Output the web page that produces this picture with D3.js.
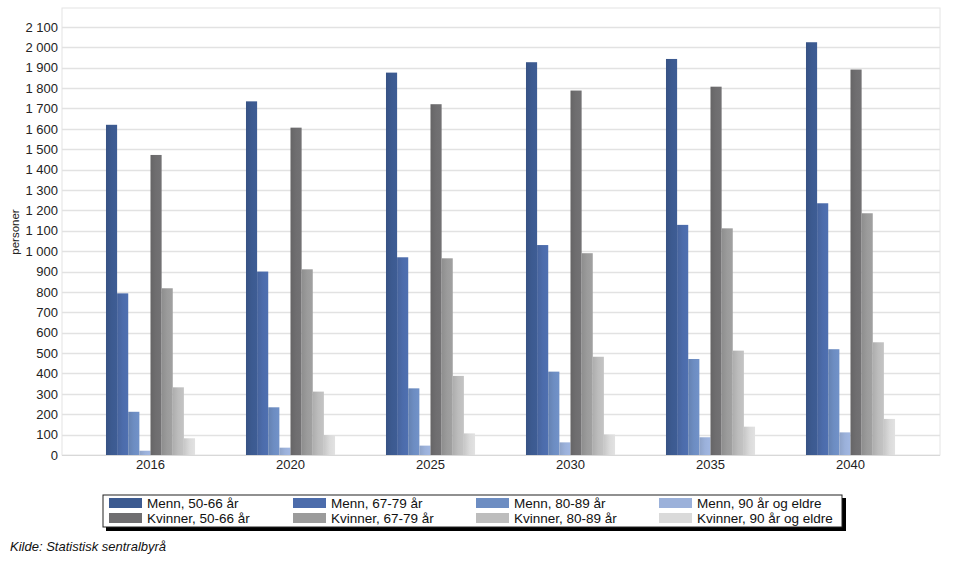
<!DOCTYPE html>
<html><head><meta charset="utf-8">
<script src="https://cdn.jsdelivr.net/npm/d3@7"></script>
<style>body{margin:0;background:#fff;font-family:"Liberation Sans",Arial,sans-serif}</style>
</head><body><svg id="c" width="962" height="574"></svg>
<script>
const years = ["2016","2020","2025","2030","2035","2040"];
const seriesNames = ["Menn, 50-66 år","Menn, 67-79 år","Menn, 80-89 år","Menn, 90 år og eldre",
  "Kvinner, 50-66 år","Kvinner, 67-79 år","Kvinner, 80-89 år","Kvinner, 90 år og eldre"];
const menn5066 = [1620,1735,1876,1927,1943,2025];
const menn6779 = [793,900,970,1030,1129,1235];
const menn8089 = [212,234,327,409,471,519];
const menn90 = [21,36,46,62,87,111];
const kvinner5066 = [1472,1606,1721,1788,1807,1891];
const kvinner6779 = [818,911,965,990,1112,1186];
const kvinner8089 = [332,311,388,482,512,553];
const kvinner90 = [82,98,106,101,139,177];
const yTicks = [0,100,200,300,400,500,600,700,800,900,1000,1100,1200,1300,1400,1500,1600,1700,1800,1900,2000,2100];
const colors = ["#3c5a90","#4c6cab","#6d8dc2","#9bb1da","#6f6e70","#9b9b9b","#bdbdbd","#dadada"];

const series = [menn5066,menn6779,menn8089,menn90,kvinner5066,kvinner6779,kvinner8089,kvinner90];
const svg = d3.select("#c");
const L=62,R=940,T=8,B=455;

const y = d3.scaleLinear().domain([0,2193]).range([B,T]);
const x0 = d3.scaleBand().domain(years).range([80.5,920.5]).paddingInner(0.364).paddingOuter(0.182);
const x1 = d3.scaleBand().domain(d3.range(8)).range([0,x0.bandwidth()]);

// frame
svg.append("rect").attr("x",L).attr("y",T).attr("width",R-L).attr("height",B-T)
  .attr("fill","#fff").attr("stroke","#e4e4e4");
// grid
svg.append("g").selectAll("line").data(yTicks.filter(d=>d>0)).join("line")
  .attr("x1",L).attr("x2",R).attr("y1",d=>Math.round(y(d))+0.5).attr("y2",d=>Math.round(y(d))+0.5)
  .attr("stroke","#e2e2e2").attr("stroke-width",1.5);

// y axis
const fmt = v => d3.format(",")(v).replace(/,/g," ");
const ya = svg.append("g").attr("transform",`translate(${L},0)`)
  .call(d3.axisLeft(y).tickValues(yTicks).tickFormat(fmt).tickSize(0).tickPadding(4));
ya.select(".domain").remove();
ya.selectAll("text").attr("font-family","Liberation Sans, Arial, sans-serif").attr("font-size",13).attr("fill","#222");

// x axis
svg.append("line").attr("x1",L).attr("x2",R).attr("y1",B+0.5).attr("y2",B+0.5).attr("stroke","#d8d8d8");
const xa = svg.append("g").attr("transform",`translate(0,${B})`)
  .call(d3.axisBottom(x0).tickSize(0).tickPadding(5));
xa.select(".domain").remove();
xa.selectAll("text").attr("font-family","Liberation Sans, Arial, sans-serif").attr("font-size",13).attr("fill","#222");

// gradients for slight shading
const defs = svg.append("defs");
colors.forEach((c,i)=>{
  const g = defs.append("linearGradient").attr("id","g"+i).attr("x1","0").attr("x2","1").attr("y1","0").attr("y2","0");
  g.append("stop").attr("offset","0").attr("stop-color",d3.color(c).darker(0.25));
  g.append("stop").attr("offset","0.5").attr("stop-color",c);
  g.append("stop").attr("offset","1").attr("stop-color",d3.color(c).brighter(0.1));
});

// bars
const groups = svg.append("g").selectAll("g").data(years).join("g")
  .attr("transform",d=>`translate(${x0(d)},0)`);
groups.selectAll("rect").data((d,yi)=>series.map((s,si)=>({si,v:s[yi]}))).join("rect")
  .attr("x",d=>x1(d.si)).attr("width",x1.bandwidth())
  .attr("y",d=>y(d.v)).attr("height",d=>B-y(d.v))
  .attr("fill",d=>`url(#g${d.si})`);

// y label
svg.append("text").attr("transform","translate(19,232) rotate(-90)").attr("text-anchor","middle")
  .attr("font-size",11.5).attr("fill","#222").text("personer");

// legend
const lg = svg.append("g");
lg.append("rect").attr("x",106).attr("y",498).attr("width",740).attr("height",33).attr("fill","#000");
lg.append("rect").attr("x",103).attr("y",495).attr("width",739).attr("height",32).attr("fill","#fff").attr("stroke","#222").attr("stroke-width",1);
const colX = [109,293,476,659];
seriesNames.forEach((n,i)=>{
  const col = i%4, row = Math.floor(i/4);
  const lx = colX[col], ly = 498 + row*15;
  lg.append("rect").attr("x",lx).attr("y",ly).attr("width",33).attr("height",10).attr("fill",colors[i]);
  lg.append("text").attr("x",lx+38).attr("y",ly+10).attr("font-size",13.5).attr("fill","#111").text(n);
});

// source
svg.append("text").attr("x",10).attr("y",551).attr("font-size",13).attr("font-style","italic").attr("fill","#111")
  .text("Kilde: Statistisk sentralbyrå");
</script></body></html>
